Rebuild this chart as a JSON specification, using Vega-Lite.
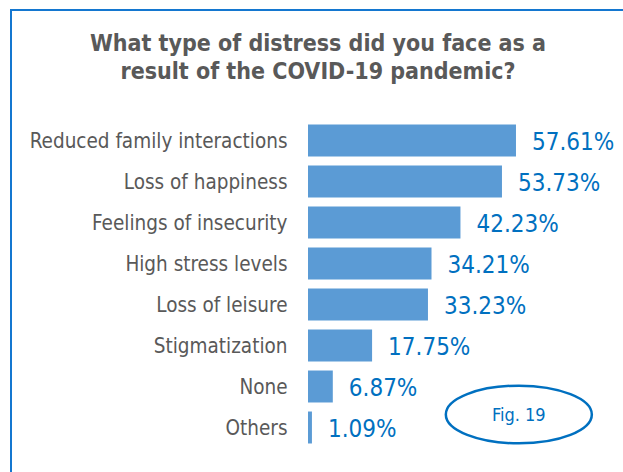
{
  "$schema": "https://vega.github.io/schema/vega-lite/v6.json",
  "width": 300,
  "height": 328,
  "autosize": {"type": "none"},
  "padding": {"left": 308, "top": 120, "right": 15, "bottom": 24},
  "background": "white",
  "config": {"view": {"stroke": null}, "font": "DejaVu Sans Condensed"},
  "title": {
    "text": ["What type of distress did you face as a", "result of the COVID-19 pandemic?"],
    "anchor": "middle",
    "frame": "group",
    "dx": -140,
    "offset": 0,
    "dy": 76,
    "font": "DejaVu Sans Condensed",
    "fontSize": 23,
    "fontWeight": "bold",
    "color": "#595959",
    "lineHeight": 28
  },
  "datasets": {
    "bars": [
      {"category": "Reduced family interactions", "value": 57.61, "label": "57.61%"},
      {"category": "Loss of happiness", "value": 53.73, "label": "53.73%"},
      {"category": "Feelings of insecurity", "value": 42.23, "label": "42.23%"},
      {"category": "High stress levels", "value": 34.21, "label": "34.21%"},
      {"category": "Loss of leisure", "value": 33.23, "label": "33.23%"},
      {"category": "Stigmatization", "value": 17.75, "label": "17.75%"},
      {"category": "None", "value": 6.87, "label": "6.87%"},
      {"category": "Others", "value": 1.09, "label": "1.09%"}
    ],
    "note": [{"category": "Others", "value": 58.4, "label": "Fig. 19"}]
  },
  "encoding": {
    "y": {
      "field": "category",
      "type": "nominal",
      "sort": ["Reduced family interactions", "Loss of happiness", "Feelings of insecurity", "High stress levels", "Loss of leisure", "Stigmatization", "None", "Others"],
      "scale": {"paddingInner": 0.22, "paddingOuter": 0.11},
      "axis": {
        "title": null,
        "domain": false,
        "ticks": false,
        "tickSize": 0,
        "labelPadding": 21,
        "labelFontSize": 20.5,
        "labelColor": "#595959",
        "labelFont": "DejaVu Sans Condensed",
        "labelLimit": 400,
        "labelOffset": 1
      }
    }
  },
  "layer": [
    {
      "data": {"name": "bars"},
      "mark": {"type": "bar", "color": "#5B9BD5"},
      "encoding": {
        "x": {"field": "value", "type": "quantitative", "scale": {"domain": [0, 83.1], "nice": false}, "axis": null}
      }
    },
    {
      "data": {"name": "bars"},
      "mark": {"type": "text", "align": "left", "baseline": "middle", "dx": 16, "dy": 2, "fontSize": 24, "color": "#0070C0", "font": "DejaVu Sans Condensed"},
      "encoding": {
        "x": {"field": "value", "type": "quantitative"},
        "text": {"field": "label"}
      }
    },
    {
      "data": {"name": "note"},
      "mark": {"type": "point", "shape": "M -1 0 A 1 0.395 0 1 1 1 0 A 1 0.395 0 1 1 -1 0 Z", "size": 21316, "filled": false, "color": "#0070C0", "strokeWidth": 2.5, "opacity": 1, "yOffset": -13},
      "encoding": {
        "x": {"field": "value", "type": "quantitative"}
      }
    },
    {
      "data": {"name": "note"},
      "mark": {"type": "text", "align": "center", "baseline": "middle", "fontSize": 18, "color": "#0070C0", "yOffset": -12, "font": "DejaVu Sans Condensed"},
      "encoding": {
        "x": {"field": "value", "type": "quantitative"},
        "text": {"field": "label"}
      }
    },
    {
      "data": {"values": [{}]},
      "mark": {"type": "rule", "color": "#1477D0", "strokeWidth": 2},
      "encoding": {
        "x": {"value": -297},
        "y": {"value": -111},
        "y2": {"value": 352}
      }
    },
    {
      "data": {"values": [{}]},
      "mark": {"type": "rule", "color": "#1477D0", "strokeWidth": 2},
      "encoding": {
        "x": {"value": -298},
        "x2": {"value": 315},
        "y": {"value": -110}
      }
    }
  ]
}
